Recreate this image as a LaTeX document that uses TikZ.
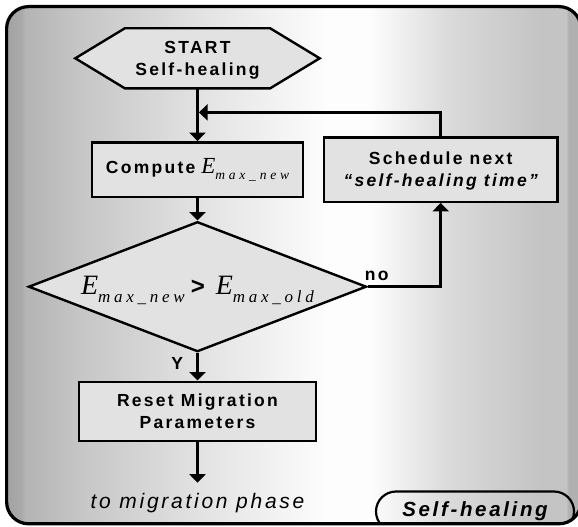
\documentclass[tikz,border=0pt]{standalone}
\usepackage{fontspec}
\setmainfont{Liberation Sans}
\newfontfamily\lblfont{Liberation Sans}[LetterSpace=13]
\newfontfamily\efont{Liberation Serif}
\usetikzlibrary{shapes.geometric,arrows.meta}

% panel gradient: grey edges, white band right of centre
\definecolor{pnA}{HTML}{A2A2A2}
\definecolor{pnB}{HTML}{AAAAAA}
\definecolor{pnC}{HTML}{B4B4B4}
\definecolor{pnD}{HTML}{C6C6C6}
\definecolor{pnE}{HTML}{E2E2E2}
\definecolor{pnF}{HTML}{FDFDFD}
\definecolor{pnG}{HTML}{DADADA}
\definecolor{pnH}{HTML}{C4C4C4}
\definecolor{pnI}{HTML}{B0B0B0}
\definecolor{boxgray}{HTML}{E2E2E2}
\pgfdeclarehorizontalshading{panelshade}{100bp}{color(0bp)=(pnA); color(25bp)=(pnA); color(26.3bp)=(pnB); color(26.6bp)=(pnC); color(31.4bp)=(pnD); color(41.8bp)=(pnE); color(53bp)=(pnF); color(56.6bp)=(pnF); color(63.6bp)=(pnG); color(71.4bp)=(pnH); color(73.7bp)=(pnH); color(73.9bp)=(pnI); color(75bp)=(pnI); color(100bp)=(pnI)}

\pgfdeclarelayer{back}
\pgfdeclarelayer{under}
\pgfsetlayers{back,under,main}

% E with a spaced, lowered subscript (upright weight, serif italic):
% #1 E size, #2 subscript size, #3 drop, #4 letter spacing, #5 subscript
\newcommand\emx[5]{{\efont\mdseries\itshape\fontsize{#1}{#1}\selectfont E}\raisebox{-#3}{\efont\mdseries\itshape\fontsize{#2}{#2}\selectfont\addfontfeature{LetterSpace=#4}#5}}

\begin{document}
\begin{tikzpicture}[x=1pt,y=-1pt,
  conn/.style={line width=2.6pt},
  flow/.style={conn,-{Triangle[length=8.5pt,width=16pt]}},
  lbl/.style={font=\lblfont\bfseries\fontsize{17.5}{22}\selectfont, inner sep=0pt, align=center},
  box/.style={lbl, draw, line width=2.4pt, fill=boxgray, rectangle},
]
\useasboundingbox (0,0) rectangle (578,527);

\begin{pgfonlayer}{back}
  \fill[white] (0,0) rectangle (578,527);
  \path[shading=panelshade, rounded corners=22pt] (6.6,6.6) rectangle (581,523.8);
\end{pgfonlayer}

% start terminal (hexagon)
\node[lbl, minimum width=244pt, minimum height=59.6pt, text depth=0pt,
      font=\lblfont\bfseries\fontsize{17.5}{22.7}\selectfont] (start) at (197.5,58.3) {START\\Self-healing};
\begin{pgfonlayer}{under}
  \draw[line width=2.4pt, fill=boxgray] (start.west) -- ([xshift=49.5pt]start.north west)
    -- ([xshift=-49.5pt]start.north east) -- (start.east)
    -- ([xshift=-49.5pt]start.south east) -- ([xshift=49.5pt]start.south west) -- cycle;
\end{pgfonlayer}

\node[box, minimum width=211pt, minimum height=54.4pt] (compute) at (197.5,169.5)
  {Compute\hspace{6pt}\emx{23}{13.5}{6pt}{28}{max\_new}};

\node[box, minimum width=233.3pt, minimum height=64.4pt, text depth=0pt] (sched) at (440.7,169.5)
  {Schedule next\\\itshape “self-healing time”};

\node[draw, shape=diamond, aspect=2.6, line width=2.4pt, fill=boxgray, minimum width=338pt,
      minimum height=130pt, inner sep=0pt, text depth=3.3pt] (dec) at (197.5,286.7)
  {\emx{28}{17}{8.5pt}{22}{max\_new}\hspace{6pt}{\lblfont\bfseries\fontsize{24}{24}\selectfont >}\hspace{11pt}\emx{28}{17}{8.5pt}{22}{max\_old}};

\node[box, minimum width=236.7pt, minimum height=59pt, text depth=0pt,
      font=\lblfont\bfseries\fontsize{17.5}{21.6}\selectfont] (reset) at (197.5,411.2)
  {Reset Migration\\Parameters};

\coordinate (fbj) at (199,112.4);
\coordinate (out) at (197.5,482.7);

\node[lbl, anchor=base] (no) at (376.7,280) {no};
\node[lbl, anchor=base] (yes) at (177.2,369.3) {Y};
\node[anchor=base, inner sep=0pt, font=\lblfont\itshape\fontsize{21}{21}\selectfont] (phase) at (197.5,508.3) {to migration phase};

% connectors
\draw[flow] (start.south) -- (compute.north);
\draw[flow] (sched.north) |- (fbj);
\draw[flow] (compute.south) -- (dec.north);
\draw[flow] (dec.east) -| (sched.south);
\draw[flow] (dec.south) -- (reset.north);
\draw[flow] (reset.south) -- (out);

% section tag, cut off by the panel border
\begin{scope}
  \clip[rounded corners=22pt] (6.6,6.6) rectangle (581,523.8);
  \node[draw, line width=2.2pt, rounded corners=20pt, minimum width=198pt, minimum height=40pt,
        inner sep=0pt, font=\lblfont\bfseries\itshape\fontsize{20.5}{20.5}\selectfont] (tag) at (475,511.5)
    {\raisebox{2pt}{Self-healing}\hspace{8pt}};
\end{scope}

% panel border
\draw[line width=3.2pt, rounded corners=22pt] (6.6,6.6) rectangle (581,523.8);
\end{tikzpicture}
\end{document}
